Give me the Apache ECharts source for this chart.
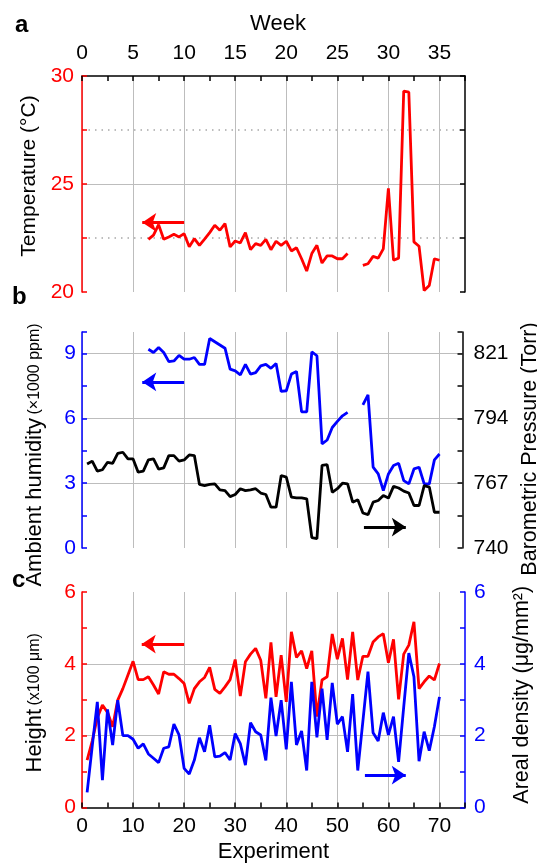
<!DOCTYPE html>
<html>
<head>
<meta charset="utf-8">
<script src="https://cdn.jsdelivr.net/npm/echarts@6/dist/echarts.min.js"></script>
<style>
  html, body { margin: 0; padding: 0; background: #fff; }
  #chart { width: 537px; height: 864px; }
</style>
</head>
<body>
<div id="chart"></div>
<script>
// one sample per experiment, experiment n happened in week n/2
let experiments = [1, 2, 3, 4, 5, 6, 7, 8, 9, 10, 11, 12, 13, 14, 15, 16, 17, 18, 19, 20,
    21, 22, 23, 24, 25, 26, 27, 28, 29, 30, 31, 32, 33, 34, 35, 36, 37, 38, 39, 40,
    41, 42, 43, 44, 45, 46, 47, 48, 49, 50, 51, 52, 53, 54, 55, 56, 57, 58, 59, 60,
    61, 62, 63, 64, 65, 66, 67, 68, 69, 70];
let weeks = [0.5, 1, 1.5, 2, 2.5, 3, 3.5, 4, 4.5, 5, 5.5, 6, 6.5, 7, 7.5, 8, 8.5, 9, 9.5, 10,
    10.5, 11, 11.5, 12, 12.5, 13, 13.5, 14, 14.5, 15, 15.5, 16, 16.5, 17, 17.5, 18, 18.5, 19, 19.5, 20,
    20.5, 21, 21.5, 22, 22.5, 23, 23.5, 24, 24.5, 25, 25.5, 26, 26.5, 27, 27.5, 28, 28.5, 29, 29.5, 30,
    30.5, 31, 31.5, 32, 32.5, 33, 33.5, 34, 34.5, 35];

let temperature = [null, null, null, null, null, null, null, null, null, null, null, null,
    22.44, 22.63, 23.12, 22.44, 22.55, 22.67, 22.55, 22.70, 22.09, 22.47, 22.16, 22.45, 22.75, 23.09,
    22.86, 23.17, 22.09, 22.36, 22.27, 22.75, 21.96, 22.24, 22.16, 22.44, 21.96, 22.35, 22.16, 22.35,
    21.90, 22.05, 21.54, 20.97, 21.78, 22.16, 21.34, 21.67, 21.67, 21.54, 21.54, 21.78, null, null,
    21.23, 21.31, 21.65, 21.57, 22.00, 24.80, 21.47, 21.57, 29.30, 29.25, 22.32, 22.12, 20.07, 20.30,
    21.54, 21.47];
let humidity = [null, null, null, null, null, null, null, null, null, null, null, null,
    9.20, 9.05, 9.28, 9.05, 8.63, 8.66, 8.92, 8.74, 8.74, 8.82, 8.50, 8.50, 9.70, 9.55,
    9.40, 9.25, 8.28, 8.20, 8.02, 8.50, 8.05, 8.12, 8.43, 8.50, 8.32, 8.54, 7.25, 7.28,
    8.05, 8.17, 6.30, 6.30, 9.08, 8.90, 4.82, 5.00, 5.58, 5.86, 6.12, 6.28, null, null,
    6.63, 7.09, 3.74, 3.43, 2.66, 3.43, 3.82, 3.92, 3.12, 2.97, 3.66, 3.74, 2.97, 2.97,
    4.08, 4.35];
let pressure = [775.0, 776.2, 772.0, 772.6, 775.7, 775.3, 779.4, 779.9, 777.1, 777.1,
    771.6, 772.0, 776.7, 777.1, 772.9, 773.4, 778.5, 778.5, 776.2, 776.7,
    778.8, 778.5, 766.5, 766.0, 766.5, 766.7, 764.2, 763.9, 761.4, 762.3,
    764.7, 763.9, 764.2, 764.7, 762.9, 762.3, 757.0, 757.0, 770.2, 769.5,
    761.2, 760.9, 760.9, 760.5, 744.3, 743.9, 774.4, 774.7, 763.2, 764.7,
    767.0, 766.7, 759.1, 760.1, 754.6, 753.9, 759.1, 759.8, 761.9, 760.8,
    765.7, 765.0, 763.7, 762.9, 757.7, 757.7, 766.0, 765.4, 754.9, 754.9];
let height = [1.32, 1.85, 2.50, 2.85, 2.65, 2.25, 2.99, 3.31, 3.69, 4.07,
    3.56, 3.56, 3.64, 3.41, 3.16, 3.78, 3.71, 3.71, 3.59, 3.45,
    2.90, 3.31, 3.50, 3.62, 3.90, 3.29, 3.18, 3.36, 3.56, 4.12,
    3.10, 4.06, 4.27, 4.43, 4.10, 3.04, 4.60, 3.08, 4.24, 2.94,
    4.89, 4.18, 4.36, 3.87, 4.36, 2.53, 3.55, 3.64, 4.83, 4.13,
    4.71, 3.56, 4.89, 3.55, 4.21, 4.21, 4.61, 4.75, 4.84, 4.03,
    4.68, 3.01, 4.27, 4.52, 5.17, 3.31, 3.50, 3.66, 3.55, 4.01];
let density = [0.42, 1.70, 2.94, 0.76, 2.73, 1.74, 2.99, 2.00, 2.00, 1.90,
    1.65, 1.77, 1.49, 1.37, 1.25, 1.65, 1.69, 2.32, 2.02, 1.09,
    0.93, 1.32, 1.94, 1.55, 2.29, 1.41, 1.43, 1.53, 1.32, 2.06,
    1.78, 1.18, 2.36, 2.11, 2.02, 1.31, 3.06, 1.99, 2.99, 1.62,
    3.50, 1.74, 2.13, 1.03, 3.50, 1.95, 3.31, 1.88, 3.47, 2.32,
    2.53, 1.55, 3.16, 1.03, 2.40, 3.78, 2.08, 1.85, 2.64, 2.02,
    2.53, 1.27, 2.80, 4.30, 3.64, 1.29, 2.11, 1.58, 2.25, 3.08];

// arrows telling which axis a curve belongs to: [from, to]
let tempArrow = [[10, 23.22], [5.9, 23.22]];
let humidityArrow = [[10, 7.69], [5.9, 7.69]];
let pressureArrow = [[27.6, 748.7], [31.7, 748.7]];
let heightArrow = [[20, 4.55], [11.7, 4.55]];
let densityArrow = [[55.4, 0.9], [63.4, 0.9]];

// tick labels
let weekLabels = [0, 5, 10, 15, 20, 25, 30, 35];
let experimentLabels = [0, 10, 20, 30, 40, 50, 60, 70];
let tempLabels = [20, 25, 30];
let humidityLabels = [0, 3, 6, 9];
let pressureLabels = [740, 767, 794, 821];
let heightLabels = [0, 2, 4, 6];
let densityLabels = [0, 2, 4, 6];

const RED = '#ff0000';
const BLUE = '#0000ff';
const BLACK = '#000000';
const GRID = '#bdbdbd';
const NONE = 'rgba(0,0,0,0)';
const FONT = '"Liberation Sans", Arial, sans-serif';

function pairs(xs, ys) {
    return xs.map(function (x, i) { return [x, ys[i]]; });
}

function onlyLabels(list) {
    return function (v) {
        for (let i = 0; i < list.length; i++) {
            if (Math.abs(list[i] - v) < 1e-6) return String(list[i]);
        }
        return '';
    };
}

function arrow(points, color) {
    return {
        silent: true,
        animation: false,
        symbol: ['none', 'arrow'],
        symbolSize: 14,
        label: {show: false},
        lineStyle: {color: color, width: 2.8, type: 'solid'},
        data: [[{coord: points[0]}, {coord: points[1]}]]
    };
}

function line(name, xi, yi, data, color, markLine) {
    return {
        name: name,
        type: 'line',
        xAxisIndex: xi,
        yAxisIndex: yi,
        data: data,
        showSymbol: false,
        symbol: 'none',
        connectNulls: false,
        lineStyle: {color: color, width: 2.8},
        itemStyle: {color: color},
        markLine: markLine
    };
}

function tick(color) {
    return {show: true, inside: true, length: 5, lineStyle: {color: color, width: 1.5}};
}

function axisLine(color) {
    return {show: true, lineStyle: {color: color, width: 1.5}};
}

let chart = echarts.init(document.getElementById('chart'));

let option = {
    animation: false,
    backgroundColor: '#ffffff',
    textStyle: {fontFamily: FONT},
    grid: [
        {left: 82, top: 76, width: 383, height: 216, outerBoundsMode: 'none', containLabel: false},
        {left: 82, top: 332, width: 380.5, height: 216, outerBoundsMode: 'none', containLabel: false},
        {left: 82, top: 592, width: 383, height: 215.5, outerBoundsMode: 'none', containLabel: false}
    ],
    xAxis: [
        {
            gridIndex: 0, type: 'value', position: 'top', min: 0, max: 37.5, interval: 2.5,
            name: 'Week', nameLocation: 'middle', nameGap: 41,
            nameTextStyle: {color: BLACK, fontSize: 22, fontFamily: FONT, padding: [0, 0, 0, 9]},
            axisLine: axisLine(BLACK), axisTick: tick(BLACK),
            axisLabel: {color: BLACK, fontSize: 21, margin: 12, formatter: onlyLabels(weekLabels)},
            splitLine: {show: true, lineStyle: {color: [GRID, NONE], width: 1}}
        },
        {
            gridIndex: 1, type: 'value', min: 0, max: 37.25, interval: 2.5,
            axisLine: {show: false}, axisTick: {show: false}, axisLabel: {show: false},
            splitLine: {show: true, lineStyle: {color: [GRID, NONE], width: 1}}
        },
        {
            gridIndex: 2, type: 'value', position: 'bottom', min: 0, max: 75, interval: 5,
            name: 'Experiment', nameLocation: 'middle', nameGap: 33,
            nameTextStyle: {color: BLACK, fontSize: 22, fontFamily: FONT},
            axisLine: axisLine(BLACK), axisTick: tick(BLACK),
            axisLabel: {color: BLACK, fontSize: 21, margin: 8, formatter: onlyLabels(experimentLabels)},
            splitLine: {show: true, lineStyle: {color: [GRID, NONE], width: 1}}
        }
    ],
    yAxis: [
        {
            gridIndex: 0, type: 'value', position: 'left', min: 20, max: 30, interval: 5,
            name: 'Temperature (°C)', nameLocation: 'middle', nameRotate: 90, nameGap: 35,
            nameTextStyle: {color: BLACK, fontSize: 21, fontFamily: FONT, padding: [0, 0, 0, 16]},
            axisLine: axisLine(RED), axisTick: tick(RED),
            minorTick: {show: true, splitNumber: 2, length: 5, lineStyle: {color: RED, width: 1.5}},
            axisLabel: {color: RED, fontSize: 21, margin: 8, formatter: onlyLabels(tempLabels)},
            splitLine: {show: true, lineStyle: {color: [NONE, GRID, NONE], width: 1}},
            minorSplitLine: {show: true, lineStyle: {color: '#a8a8a8', width: 1.5, type: [1.5, 5]}}
        },
        {
            gridIndex: 0, type: 'value', position: 'right', min: 20, max: 30, interval: 5,
            axisLine: axisLine(BLACK), axisTick: tick(BLACK),
            minorTick: {show: true, splitNumber: 2, length: 5, lineStyle: {color: BLACK, width: 1.5}},
            axisLabel: {show: false}, splitLine: {show: false}
        },
        {
            gridIndex: 1, type: 'value', position: 'left', min: 0, max: 10, interval: 1.5,
            name: '{big|Ambient humidity} {small|(×1000 ppm)}', nameLocation: 'middle', nameRotate: 90, nameGap: 36,
            nameTextStyle: {
                color: BLACK, fontFamily: FONT, padding: [0, 30, 0, 0],
                rich: {big: {fontSize: 22, fontFamily: FONT}, small: {fontSize: 16, fontFamily: FONT}}
            },
            axisLine: axisLine(BLUE), axisTick: tick(BLUE),
            axisLabel: {color: BLUE, fontSize: 21, margin: 6, formatter: onlyLabels(humidityLabels)},
            splitLine: {show: true, lineStyle: {color: [NONE, NONE, GRID, NONE, GRID, NONE, GRID, NONE], width: 1}}
        },
        {
            gridIndex: 1, type: 'value', position: 'right', min: 740, max: 830, interval: 13.5,
            name: 'Barometric Pressure (Torr)', nameLocation: 'middle', nameRotate: 90, nameGap: 52,
            nameTextStyle: {color: BLACK, fontSize: 21.5, fontFamily: FONT, padding: [0, 18, 0, 0]},
            axisLine: axisLine(BLACK), axisTick: tick(BLACK),
            axisLabel: {color: BLACK, fontSize: 21, margin: 11, formatter: onlyLabels(pressureLabels)},
            splitLine: {show: false}
        },
        {
            gridIndex: 2, type: 'value', position: 'left', min: 0, max: 6, interval: 2,
            name: '{big|Height} {small|(x100 μm)}', nameLocation: 'middle', nameRotate: 90, nameGap: 36,
            nameTextStyle: {
                color: BLACK, fontFamily: FONT, padding: [0, 6, 0, 0],
                rich: {big: {fontSize: 22, fontFamily: FONT}, small: {fontSize: 16, fontFamily: FONT}}
            },
            axisLine: axisLine(RED), axisTick: tick(RED),
            minorTick: {show: true, splitNumber: 2, length: 5, lineStyle: {color: RED, width: 1.5}},
            axisLabel: {color: RED, fontSize: 21, margin: 6, formatter: onlyLabels(heightLabels)},
            splitLine: {show: true, lineStyle: {color: [NONE, GRID, GRID, NONE], width: 1}}
        },
        {
            gridIndex: 2, type: 'value', position: 'right', min: 0, max: 6, interval: 2,
            name: 'Areal density (μg/mm²)', nameLocation: 'middle', nameRotate: 90, nameGap: 46,
            nameTextStyle: {color: BLACK, fontSize: 21.5, fontFamily: FONT, padding: [0, 0, 0, 10]},
            axisLine: axisLine(BLUE), axisTick: tick(BLUE),
            minorTick: {show: true, splitNumber: 2, length: 5, lineStyle: {color: BLUE, width: 1.5}},
            axisLabel: {color: BLUE, fontSize: 21, margin: 9, formatter: onlyLabels(densityLabels)},
            splitLine: {show: false}
        }
    ],
    graphic: [
        {type: 'text', x: 15, y: 25, style: {text: 'a', font: 'bold 24px ' + FONT, fill: BLACK, verticalAlign: 'middle'}},
        {type: 'text', x: 12, y: 297, style: {text: 'b', font: 'bold 24px ' + FONT, fill: BLACK, verticalAlign: 'middle'}},
        {type: 'text', x: 12, y: 580, style: {text: 'c', font: 'bold 24px ' + FONT, fill: BLACK, verticalAlign: 'middle'}}
    ],
    series: [
        line('Temperature', 0, 0, pairs(weeks, temperature), RED, arrow(tempArrow, RED)),
        line('Ambient humidity', 1, 2, pairs(weeks, humidity), BLUE, arrow(humidityArrow, BLUE)),
        line('Barometric pressure', 1, 3, pairs(weeks, pressure), BLACK, arrow(pressureArrow, BLACK)),
        line('Height', 2, 4, pairs(experiments, height), RED, arrow(heightArrow, RED)),
        line('Areal density', 2, 5, pairs(experiments, density), BLUE, arrow(densityArrow, BLUE))
    ]
};

chart.setOption(option);
</script>
</body>
</html>
